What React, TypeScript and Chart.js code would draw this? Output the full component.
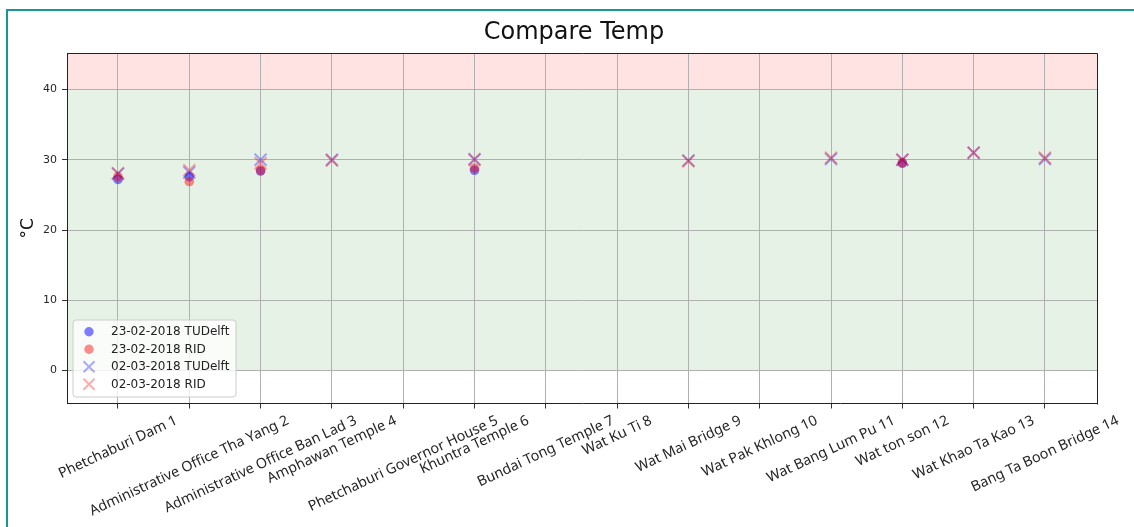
import React, { useEffect, useRef } from 'react';
import { Chart, registerables } from 'chart.js';

Chart.register(...registerables);

const stations = [
  'Phetchaburi Dam 1',
  'Administrative Office Tha Yang 2',
  'Administrative Office Ban Lad 3',
  'Amphawan Temple 4',
  'Phetchaburi Governor House 5',
  'Khuntra Temple 6',
  'Bundai Tong Temple 7',
  'Wat Ku Ti 8',
  'Wat Mai Bridge 9',
  'Wat Pak Khlong 10',
  'Wat Bang Lum Pu 11',
  'Wat ton son 12',
  'Wat Khao Ta Kao 13',
  'Bang Ta Boon Bridge 14',
];

const feb23TUDelft = [27.2, 27.6, 28.4, null, null, 28.5, null, null, null, null, null, 29.5, null, null];
const feb23RID = [27.6, 26.9, 28.5, null, null, 28.8, null, null, null, null, null, 29.6, null, null];
const mar02TUDelft = [28.0, 28.2, 30.0, 30.0, null, 30.0, null, null, 29.9, null, 30.1, 30.0, 31.0, 30.1];
const mar02RID = [28.1, 28.5, 29.5, 29.9, null, 30.1, null, null, 29.8, null, 30.3, 30.0, 31.0, 30.3];

const seriesLabels = ['23-02-2018 TUDelft', '23-02-2018 RID', '02-03-2018 TUDelft', '02-03-2018 RID'];
const yTicks = [0, 10, 20, 30, 40];
const okBand = [0, 40];
const hotBand = [40, 50];

const W = 1134;
const H = 527;
const PAD_LEFT = 14;
const PLOT_LEFT = 67;
const PLOT_TOP = 53;
const PLOT_RIGHT = 1097;
const PLOT_BOTTOM = 403.5;
const TICK_LEN = 5;

const toPoints = (vals: (number | null)[]) =>
  vals
    .map((v, i) => (v == null ? null : { x: i + 1, y: v }))
    .filter((p) => p !== null) as { x: number; y: number }[];

const bandsPlugin = {
  id: 'bands',
  beforeDraw(chart: any) {
    const { ctx, chartArea, scales } = chart;
    const y = scales.y;
    ctx.save();
    ctx.beginPath();
    ctx.rect(chartArea.left, chartArea.top, chartArea.right - chartArea.left, chartArea.bottom - chartArea.top);
    ctx.clip();
    const g0 = y.getPixelForValue(okBand[0]);
    const g1 = y.getPixelForValue(okBand[1]);
    ctx.fillStyle = 'rgba(0,128,0,0.1)';
    ctx.fillRect(chartArea.left, g1, chartArea.right - chartArea.left, g0 - g1);
    const p0 = y.getPixelForValue(hotBand[0]);
    const p1 = y.getPixelForValue(hotBand[1]);
    ctx.fillStyle = 'rgba(255,0,0,0.11)';
    ctx.fillRect(chartArea.left, p1, chartArea.right - chartArea.left, p0 - p1);
    ctx.restore();
  },
};

const decorPlugin = {
  id: 'decor',
  afterDraw(chart: any) {
    const { ctx, chartArea, scales } = chart;
    const xs = scales.x;
    ctx.save();
    // top & right spines
    ctx.strokeStyle = '#222';
    ctx.lineWidth = 1;
    ctx.beginPath();
    ctx.moveTo(Math.round(chartArea.left) + 0.5, Math.round(chartArea.top) + 0.5);
    ctx.lineTo(Math.round(chartArea.right) + 0.5, Math.round(chartArea.top) + 0.5);
    ctx.lineTo(Math.round(chartArea.right) + 0.5, Math.round(chartArea.bottom) + 0.5);
    ctx.stroke();

    // title
    ctx.fillStyle = '#111';
    ctx.font = '24px "DejaVu Sans"';
    ctx.textAlign = 'center';
    ctx.textBaseline = 'alphabetic';
    ctx.fillText('Compare Temp', 574, 39);

    // x tick labels: rotated 25deg, bbox centred on the tick
    const theta = (25 * Math.PI) / 180;
    const fs = 14.3;
    ctx.font = `${fs}px "Noto Sans"`;
    ctx.fillStyle = '#262626';
    ctx.textAlign = 'center';
    ctx.textBaseline = 'middle';
    const top = chartArea.bottom + TICK_LEN + 4;
    stations.forEach((label, i) => {
      const px = xs.getPixelForValue(i + 1);
      const w = ctx.measureText(label).width;
      const h = fs * 1.15;
      const bh = w * Math.sin(theta) + h * Math.cos(theta);
      ctx.save();
      ctx.translate(px, top + bh / 2);
      ctx.rotate(-theta);
      ctx.fillText(label, 0, 0);
      ctx.restore();
    });

    // legend
    const lx = 73;
    const ly = 320;
    const lw = 163;
    const lh = 77;
    ctx.beginPath();
    const r = 3;
    ctx.moveTo(lx + r, ly);
    ctx.arcTo(lx + lw, ly, lx + lw, ly + lh, r);
    ctx.arcTo(lx + lw, ly + lh, lx, ly + lh, r);
    ctx.arcTo(lx, ly + lh, lx, ly, r);
    ctx.arcTo(lx, ly, lx + lw, ly, r);
    ctx.closePath();
    ctx.fillStyle = 'rgba(255,255,255,0.8)';
    ctx.fill();
    ctx.strokeStyle = '#cccccc';
    ctx.lineWidth = 1;
    ctx.stroke();

    ctx.font = '12px "DejaVu Sans"';
    ctx.textAlign = 'left';
    ctx.textBaseline = 'middle';
    chart.data.datasets.forEach((ds: any, i: number) => {
      const cy = 331.7 + 17.5 * i;
      const cx = 89;
      if (ds.pointStyle === 'circle') {
        ctx.beginPath();
        ctx.arc(cx, cy, 4.7, 0, Math.PI * 2);
        ctx.fillStyle = ds.backgroundColor;
        ctx.fill();
      } else {
        const o = 5.5;
        ctx.beginPath();
        ctx.moveTo(cx - o, cy - o);
        ctx.lineTo(cx + o, cy + o);
        ctx.moveTo(cx + o, cy - o);
        ctx.lineTo(cx - o, cy + o);
        ctx.strokeStyle = ds.borderColor;
        ctx.lineWidth = 2;
        ctx.stroke();
      }
      ctx.fillStyle = '#222';
      ctx.fillText(ds.label, 111, cy + 0.5);
    });
    ctx.restore();
  },
};

export default function App() {
  const canvasRef = useRef<HTMLCanvasElement | null>(null);

  useEffect(() => {
    const canvas = canvasRef.current;
    if (!canvas) return;
    const blue = 'rgba(0,0,255,0.5)';
    const red = 'rgba(255,0,0,0.45)';
    const blueX = 'rgba(0,0,255,0.33)';
    const redX = 'rgba(255,0,0,0.33)';
    const series = [feb23TUDelft, feb23RID, mar02TUDelft, mar02RID];
    const styles = [
      { pointStyle: 'circle', pointRadius: 4.8, backgroundColor: blue, borderColor: blue, borderWidth: 0 },
      { pointStyle: 'circle', pointRadius: 4.8, backgroundColor: red, borderColor: red, borderWidth: 0 },
      { pointStyle: 'crossRot', pointRadius: 8.5, backgroundColor: blueX, borderColor: blueX, borderWidth: 2 },
      { pointStyle: 'crossRot', pointRadius: 8.5, backgroundColor: redX, borderColor: redX, borderWidth: 2 },
    ];
    const chart = new Chart(canvas, {
      type: 'scatter',
      data: {
        datasets: series.map((vals, i) => ({
          label: seriesLabels[i],
          data: toPoints(vals),
          showLine: false,
          order: 3 - i,
          pointHoverRadius: styles[i].pointRadius,
          ...styles[i],
        })) as any,
      },
      options: {
        responsive: false,
        animation: false,
        events: [],
        layout: {
          padding: {
            left: PAD_LEFT,
            top: PLOT_TOP,
            right: W - PLOT_RIGHT,
            bottom: H - PLOT_BOTTOM - TICK_LEN,
          },
        },
        plugins: {
          legend: { display: false },
          tooltip: { enabled: false },
          title: { display: false },
        },
        scales: {
          x: {
            type: 'linear',
            min: 0.285,
            max: 14.73,
            afterBuildTicks: (s: any) => {
              s.ticks = stations.map((_, i) => ({ value: i + 1 }));
            },
            afterFit: (s: any) => {
              s.height = TICK_LEN;
            },
            ticks: { display: false },
            grid: { color: '#b0b0b0', lineWidth: 1, tickColor: '#333', tickLength: TICK_LEN, drawTicks: true },
            border: { display: true, color: '#222', width: 1 },
          },
          y: {
            type: 'linear',
            min: -4.7,
            max: 45.2,
            afterBuildTicks: (s: any) => {
              s.ticks = yTicks.map((v) => ({ value: v }));
            },
            afterFit: (s: any) => {
              s.width = PLOT_LEFT - PAD_LEFT;
            },
            ticks: {
              font: { family: '"DejaVu Sans"', size: 11 },
              color: '#262626',
              padding: 5,
            },
            grid: { color: '#b0b0b0', lineWidth: 1, tickColor: '#333', tickLength: TICK_LEN, drawTicks: true },
            border: { display: true, color: '#222', width: 1 },
            title: {
              display: true,
              text: '°C',
              color: '#111',
              font: { family: '"DejaVu Sans"', size: 17 },
              padding: { top: 4, bottom: 4 },
            },
          },
        },
      } as any,
      plugins: [bandsPlugin, decorPlugin],
    });
    return () => chart.destroy();
  }, []);

  return (
    <div style={{ position: 'fixed', left: 0, top: 0, width: W, height: H, background: '#fff', overflow: 'hidden' }}>
      <div
        style={{
          position: 'absolute',
          left: 6,
          top: 9,
          width: W - 6,
          height: H - 9,
          boxSizing: 'border-box',
          borderLeft: '2px solid #169898',
          borderTop: '2px solid #169898',
        }}
      />
      <canvas ref={canvasRef} width={W} height={H} style={{ position: 'absolute', left: 0, top: 0, display: 'block' }} />
    </div>
  );
}
